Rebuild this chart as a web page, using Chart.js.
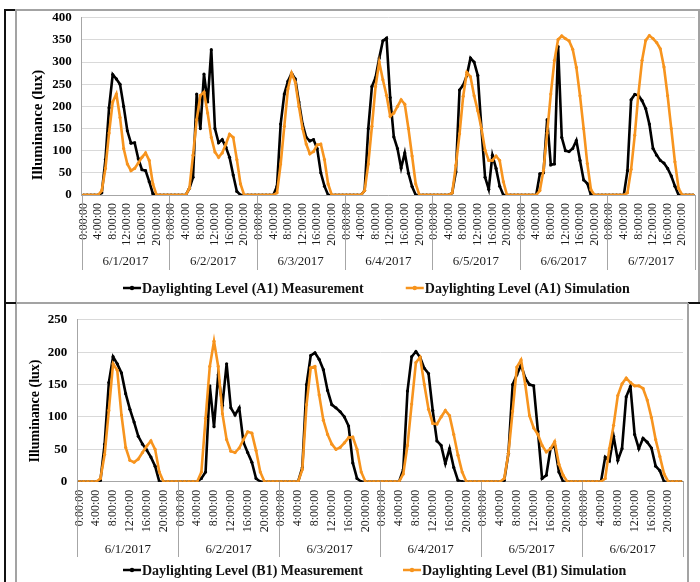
<!DOCTYPE html>
<html>
<head>
<meta charset="utf-8">
<script src="https://cdn.jsdelivr.net/npm/chart.js@4.4.1/dist/chart.umd.min.js"></script>
<style>
  html, body { margin: 0; padding: 0; background: #fff; }
  #page { position: relative; width: 700px; height: 582px; overflow: hidden; background: #fff; }
  #page canvas { position: absolute; left: 0; }
  .rule { position: absolute; }
  .dark { background: #111; }
  .soft { background: #a3a3a3; }
</style>
</head>
<body>
<div id="page">
  <canvas id="chartA1" width="700" height="302" style="top:0"></canvas>
  <canvas id="chartB1" width="700" height="280" style="top:302px"></canvas>

  <!-- panel frames -->
  <div class="rule dark" style="left:4px;top:9px;width:2px;height:573px"></div>
  <div class="rule dark" style="left:4px;top:9px;width:12px;height:2px"></div>
  <div class="rule soft" style="left:15px;top:9px;width:685px;height:2px"></div>
  <div class="rule soft" style="left:15px;top:10px;width:2px;height:572px"></div>
  <div class="rule soft" style="left:698px;top:10px;width:2px;height:293px"></div>
  <div class="rule dark" style="left:4px;top:302px;width:12px;height:2px"></div>
  <div class="rule soft" style="left:16px;top:302px;width:673px;height:2px"></div>
  <div class="rule dark" style="left:688px;top:302px;width:12px;height:2px"></div>
  <div class="rule soft" style="left:687px;top:303px;width:2px;height:279px"></div>
</div>

<script>
// ---- hour-of-day labels (shown every 4 hours) ----
const hourLabels = [
  '0:00:00','1:00:00','2:00:00','3:00:00','4:00:00','5:00:00',
  '6:00:00','7:00:00','8:00:00','9:00:00','10:00:00','11:00:00',
  '12:00:00','13:00:00','14:00:00','15:00:00','16:00:00','17:00:00',
  '18:00:00','19:00:00','20:00:00','21:00:00','22:00:00','23:00:00'
];

// ---- dates ----
const datesA1 = ['6/1/2017','6/2/2017','6/3/2017','6/4/2017','6/5/2017','6/6/2017','6/7/2017'];
const datesB1 = ['6/1/2017','6/2/2017','6/3/2017','6/4/2017','6/5/2017','6/6/2017'];

// ---- A1 measurement, lux, hourly (0:00 .. 23:00) ----
const a1MeasDay1 = [0,0,0,0,0,5,80,197,272,262,250,200,145,117,118,82,57,55,30,3,0,0,0,0];
const a1MeasDay2 = [0,0,0,0,0,15,40,228,150,273,210,328,150,118,125,108,85,45,8,0,0,0,0,0];
const a1MeasDay3 = [0,0,0,0,0,20,160,228,257,275,262,210,160,130,122,125,105,50,20,0,0,0,0,0];
const a1MeasDay4 = [0,0,0,0,0,10,150,245,265,309,348,354,220,131,105,61,95,49,19,0,0,0,0,0];
const a1MeasDay5 = [0,0,0,0,0,5,52,237,248,270,309,300,270,150,40,13,90,60,20,0,0,0,0,0];
const a1MeasDay6 = [0,0,0,0,0,48,50,170,68,70,335,130,100,98,105,123,78,34,26,0,0,0,0,0];
const a1MeasDay7 = [0,0,0,0,0,55,215,227,225,213,195,160,105,90,78,72,60,43,20,0,0,0,0,0];

// ---- A1 simulation ----
const a1SimDay1 = [0,0,0,0,0,10,60,140,210,228,175,105,70,55,60,72,85,95,78,25,0,0,0,0];
const a1SimDay2 = [0,0,0,0,0,15,90,170,225,232,185,130,97,85,95,115,137,130,80,25,0,0,0,0];
const a1SimDay3 = [0,0,0,0,0,5,70,155,240,275,255,200,150,115,93,98,113,115,80,25,0,0,0,0];
const a1SimDay4 = [0,0,0,0,0,10,70,155,245,300,260,225,178,185,200,215,205,150,88,25,0,0,0,0];
const a1SimDay5 = [0,0,0,0,0,5,67,138,223,277,267,224,190,150,101,78,78,88,78,30,0,0,0,0];
const a1SimDay6 = [0,0,0,0,0,10,56,140,228,304,351,359,353,348,329,288,224,150,71,12,0,0,0,0];
const a1SimDay7 = [0,0,0,0,0,5,58,135,228,304,349,360,353,344,330,289,224,150,75,15,0,0,0,0];

// ---- B1 measurement ----
const b1MeasDay1 = [0,0,0,0,0,2,58,153,193,182,168,136,112,92,70,58,49,38,24,0,0,0,0,0];
const b1MeasDay2 = [0,0,0,0,0,5,15,148,85,165,118,182,114,103,114,61,45,30,5,0,0,0,0,0];
const b1MeasDay3 = [0,0,0,0,0,22,150,195,199,189,173,141,119,114,108,100,86,29,5,0,0,0,0,0];
const b1MeasDay4 = [0,0,0,0,0,19,140,193,201,192,175,167,110,63,56,28,51,22,2,0,0,0,0,0];
const b1MeasDay5 = [0,0,0,0,0,2,44,150,165,180,160,150,148,78,5,10,51,56,15,0,0,0,0,0];
const b1MeasDay6 = [0,0,0,0,0,38,32,70,33,51,131,147,73,51,67,61,52,24,17,0,0,0,0,0];

// ---- B1 simulation ----
const b1SimDay1 = [0,0,0,0,0,5,42,110,182,172,103,53,33,30,35,45,55,63,50,15,0,0,0,0];
const b1SimDay2 = [0,0,0,0,0,15,98,178,217,178,105,65,47,45,52,65,77,75,48,15,0,0,0,0];
const b1SimDay3 = [0,0,0,0,0,19,119,176,178,134,95,73,58,50,53,60,68,69,50,15,0,0,0,0];
const b1SimDay4 = [0,0,0,0,0,12,56,120,184,192,150,112,90,89,100,110,102,73,41,15,0,0,0,0];
const b1SimDay5 = [0,0,0,0,0,5,44,109,177,188,150,102,83,73,56,46,51,62,27,10,0,0,0,0];
const b1SimDay6 = [0,0,0,0,0,5,51,87,133,151,160,153,148,148,144,126,99,65,39,12,0,0,0,0];

const a1Measured = [].concat(a1MeasDay1, a1MeasDay2, a1MeasDay3, a1MeasDay4, a1MeasDay5, a1MeasDay6, a1MeasDay7);
const a1Simulated = [].concat(a1SimDay1, a1SimDay2, a1SimDay3, a1SimDay4, a1SimDay5, a1SimDay6, a1SimDay7);
const b1Measured = [].concat(b1MeasDay1, b1MeasDay2, b1MeasDay3, b1MeasDay4, b1MeasDay5, b1MeasDay6);
const b1Simulated = [].concat(b1SimDay1, b1SimDay2, b1SimDay3, b1SimDay4, b1SimDay5, b1SimDay6);

const SERIF = '"Liberation Serif", "Times New Roman", serif';
const INK = '#000000';
const ORANGE = '#F7941E';

// Date captions under the hour labels, with group separators
const dayGroups = {
  id: 'dayGroups',
  afterDraw(chart, args, opts) {
    const x = chart.scales.x;
    const ctx = chart.ctx;
    const n = opts.days.length;
    const half = (x.getPixelForValue(1) - x.getPixelForValue(0)) / 2;
    const top = chart.chartArea.bottom;
    ctx.save();
    ctx.strokeStyle = '#a6a6a6';
    ctx.lineWidth = 1;
    for (let d = 0; d <= n; d++) {
      const px = d < n ? x.getPixelForValue(d * 24) - half : x.getPixelForValue(n * 24 - 1) + half;
      const sx = Math.round(px) + 0.5;
      ctx.beginPath();
      ctx.moveTo(sx, top);
      ctx.lineTo(sx, opts.lineBottom);
      ctx.stroke();
    }
    ctx.font = '13px ' + SERIF;
    ctx.fillStyle = '#1a1a1a';
    ctx.textAlign = 'center';
    ctx.textBaseline = 'middle';
    for (let d = 0; d < n; d++) {
      const cx = (x.getPixelForValue(d * 24) + x.getPixelForValue(d * 24 + 23)) / 2;
      ctx.fillText(opts.days[d], cx, opts.labelY);
    }
    ctx.restore();
  }
};

// Series key drawn as line-with-marker swatches
const seriesKey = {
  id: 'seriesKey',
  afterDraw(chart, args, opts) {
    const ctx = chart.ctx;
    ctx.save();
    ctx.font = 'bold 14px ' + SERIF;
    ctx.textBaseline = 'middle';
    ctx.textAlign = 'left';
    let x = opts.x;
    const y = opts.y;
    opts.order.forEach(i => {
      const ds = chart.data.datasets[i];
      ctx.strokeStyle = ds.borderColor;
      ctx.lineWidth = 2.5;
      ctx.beginPath();
      ctx.moveTo(x, y);
      ctx.lineTo(x + 18, y);
      ctx.stroke();
      ctx.fillStyle = ds.borderColor;
      ctx.beginPath();
      ctx.arc(x + 9, y, 2.2, 0, Math.PI * 2);
      ctx.fill();
      ctx.fillStyle = '#111';
      ctx.fillText(ds.label, x + 19, y + 1);
      x += 19 + ctx.measureText(ds.label).width + opts.gap;
    });
    ctx.restore();
  }
};

// Rotated value-axis caption
const axisCaption = {
  id: 'axisCaption',
  afterDraw(chart, args, opts) {
    const ctx = chart.ctx;
    ctx.save();
    ctx.translate(opts.x, opts.y);
    ctx.rotate(-Math.PI / 2);
    ctx.font = 'bold ' + opts.size + 'px ' + SERIF;
    ctx.fillStyle = '#000';
    ctx.textAlign = 'center';
    ctx.textBaseline = 'middle';
    ctx.fillText(opts.text, 0, 0);
    ctx.restore();
  }
};

function buildChart(canvasId, cfg) {
  const count = cfg.days.length * 24;
  const categories = [];
  for (let i = 0; i < count; i++) categories.push(cfg.days[Math.floor(i / 24)] + ' ' + hourLabels[i % 24]);

  return new Chart(document.getElementById(canvasId), {
    type: 'line',
    data: {
      labels: categories,
      datasets: [
        {
          label: cfg.measLabel,
          data: cfg.measured,
          borderColor: INK,
          backgroundColor: INK,
          borderWidth: 2.6,
          pointRadius: 1.6,
          pointBorderWidth: 0,
          pointBackgroundColor: INK,
          tension: 0,
          order: 2
        },
        {
          label: cfg.simLabel,
          data: cfg.simulated,
          borderColor: ORANGE,
          backgroundColor: ORANGE,
          borderWidth: 2.6,
          pointRadius: 1.6,
          pointBorderWidth: 0,
          pointBackgroundColor: ORANGE,
          tension: 0,
          order: 1
        }
      ]
    },
    options: {
      responsive: false,
      animation: false,
      events: [],
      devicePixelRatio: 1,
      layout: { padding: cfg.padding },
      plugins: {
        legend: { display: false },
        tooltip: { enabled: false },
        dayGroups: { days: cfg.days, labelY: cfg.dateY, lineBottom: cfg.lineBottom },
        seriesKey: { x: cfg.keyX, y: cfg.keyY, gap: cfg.keyGap, order: [0, 1] },
        axisCaption: { text: 'Illuminance (lux)', x: cfg.captionX, y: cfg.captionY, size: cfg.captionSize }
      },
      scales: {
        x: {
          type: 'category',
          offset: true,
          grid: { display: false, drawTicks: false },
          border: { display: true, color: '#a6a6a6', width: 1 },
          ticks: {
            autoSkip: false,
            minRotation: 90,
            maxRotation: 90,
            padding: 8,
            color: '#1a1a1a',
            font: { family: SERIF, size: 12 },
            callback: (v, i) => (i % 4 === 0 ? hourLabels[i % 24] : null)
          },
          afterFit(s) { s.height = 80; s.paddingLeft = 0; s.paddingRight = 0; }
        },
        y: {
          min: 0,
          max: cfg.yMax,
          grid: { color: '#d9d9d9', lineWidth: 1, drawTicks: false },
          border: { display: true, color: '#a6a6a6', width: 1 },
          ticks: {
            stepSize: 50,
            padding: 10,
            color: '#000',
            font: { family: SERIF, size: 13, weight: 'bold' }
          },
          afterFit(s) { s.width = cfg.yWidth; }
        }
      }
    },
    plugins: [dayGroups, seriesKey, axisCaption]
  });
}

buildChart('chartA1', {
  days: datesA1,
  measured: a1Measured,
  simulated: a1Simulated,
  measLabel: 'Daylighting Level (A1) Measurement',
  simLabel: 'Daylighting Level (A1) Simulation',
  yMax: 400,
  padding: { left: 20, right: 5, top: 16.7, bottom: 27 },
  yWidth: 61.7,
  dateY: 262, lineBottom: 270,
  keyX: 123, keyY: 288, keyGap: 42,
  captionX: 38, captionY: 125, captionSize: 15
});

buildChart('chartB1', {
  days: datesB1,
  measured: b1Measured,
  simulated: b1Simulated,
  measLabel: 'Daylighting Level (B1) Measurement',
  simLabel: 'Daylighting Level (B1) Simulation',
  yMax: 250,
  padding: { left: 20, right: 17, top: 8, bottom: 20.3 },
  yWidth: 57.3,
  dateY: 248, lineBottom: 255,
  keyX: 123, keyY: 268, keyGap: 40,
  captionX: 35, captionY: 109, captionSize: 14
});
</script>
</body>
</html>
